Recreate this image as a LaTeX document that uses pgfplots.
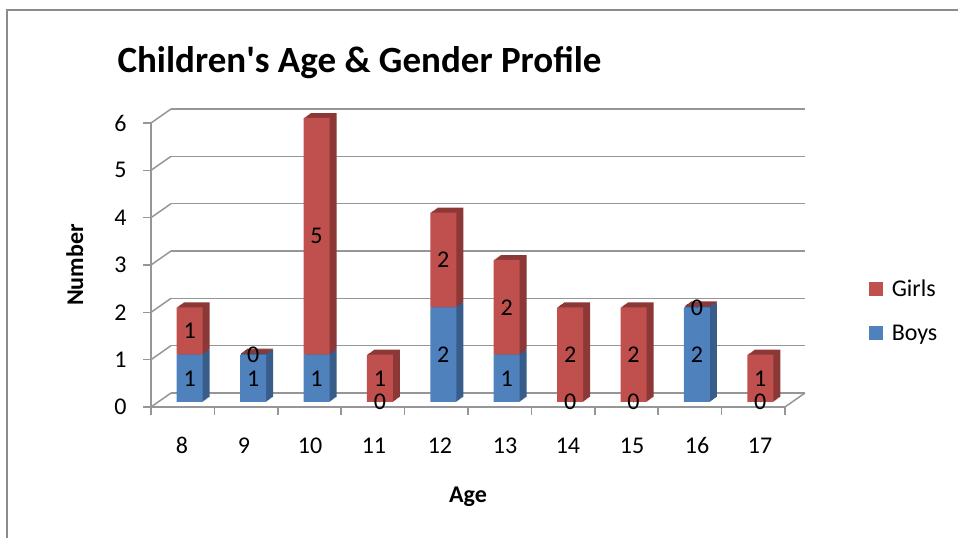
\documentclass[border=0pt]{standalone}
\usepackage{pgfplots}
\pgfplotsset{compat=1.18}
\usepackage{pgfplotstable}
\usepackage{fontspec}
\setmainfont{Carlito}
\definecolor{blueF}{HTML}{4F81BD}
\definecolor{blueD}{HTML}{385D8A}
\definecolor{redF}{HTML}{C0504D}
\definecolor{redD}{HTML}{8C3836}
\definecolor{gridgray}{HTML}{969696}
\definecolor{framegray}{HTML}{8C8C8C}

\pgfplotstableread{
age boys girls
8 1 1
9 1 0
10 1 5
11 0 1
12 2 2
13 1 2
14 0 2
15 0 2
16 2 0
17 0 1
}\data

\pgfplotsset{
  geom/.style={scale only axis, width=634pt, height=284pt, anchor=south west,
    xmin=7.5, xmax=17.5, ymin=0, ymax=6, clip=false},
  baraxis/.style={geom, hide axis, ybar stacked, bar width=26pt},
}

\begin{document}
\begin{tikzpicture}
\path[use as bounding box] (0pt,0pt) rectangle (958pt,538pt);
\draw[framegray, line width=2pt] (7pt,0pt) -- (7pt,528pt) -- (958pt,528pt);

\node[anchor=base west, font=\fontsize{37}{44}\selectfont\bfseries] at (114pt,465pt) {Children\textquotesingle s Age \& Gender Profile};

% back wall gridlines
\begin{axis}[geom, at={(171pt,145pt)}, xtick=\empty, ytick={0,...,6}, yticklabels={,,,,,,},
  ymajorgrids, major grid style={gridgray, line width=1.5pt},
  axis line style={draw=none}, major tick length=0pt]
\addplot[draw=none] coordinates {(8,0)};
\end{axis}

% left wall diagonals and floor
\foreach \i in {0,...,6} {
  \pgfmathsetmacro\ya{131+47.333*\i}
  \pgfmathsetmacro\yb{145+47.333*\i}
  \draw[gridgray, line width=1.5pt] (151pt,\ya pt) -- (171pt,\yb pt);
}
\draw[gridgray, line width=1.5pt] (785pt,131pt) -- (805pt,145pt);

% front axis
\begin{axis}[geom, at={(151pt,131pt)},
  axis x line*=bottom, axis y line*=left,
  axis line style={-, gridgray, line width=1.5pt},
  xtick={7.5,8.5,...,17.5}, xticklabels={,,,,,,,,,,},
  extra x ticks={7.989,8.967,10.008,11.017,12.058,13.084,14.077,15.087,16.112,17.106},
  extra x tick labels={8,9,10,11,12,13,14,15,16,17},
  extra x tick style={tick style={draw=none}},
  ytick={0,...,6}, yticklabels={0,1,2,3,4,5,6},
  tick align=outside, major tick length=8pt,
  tick style={gridgray, line width=1.5pt},
  tick label style={font=\fontsize{24}{28}\selectfont},
  yticklabel style={xshift=-13pt},
  xticklabel style={anchor=base, yshift=-39pt},
  /pgf/number format/assume math mode=true]
\addplot[draw=none] coordinates {(8,0)};
\end{axis}

\node[anchor=base, font=\fontsize{24}{28}\selectfont\bfseries] at (468pt,35pt) {Age};
\node[anchor=base, rotate=90, font=\fontsize{24}{28}\selectfont\bfseries] at (83pt,273pt) {Number};

% depth copies of the bars (a zero Girls segment still shows as the red top face)
\foreach \k in {7,6,...,1} {
  \pgfmathsetmacro\bx{158+\k}
  \pgfmathsetmacro\by{136+0.714*\k}
  \begin{axis}[baraxis, at={(\bx pt,\by pt)}]
  \addplot[fill=blueD, draw=none] table[x=age, y=boys] {\data};
  \addplot[fill=redD, draw=none] table[x=age, y expr={max(\thisrow{girls},0.02)}] {\data};
  \end{axis}
}

% front faces with legend
\begin{axis}[baraxis, at={(158pt,136pt)},
  legend style={at={(1.116,0.322)}, anchor=west, draw=none, fill=none,
    font=\fontsize{24}{28}\selectfont, row sep=23pt,
    /tikz/every odd column/.append style={column sep=7pt}},
  legend cell align=left, reverse legend]
\addplot[fill=blueF, draw=none,
  legend image code/.code={\fill[blueF] (0pt,-7pt) rectangle (14pt,7pt);}]
  table[x=age, y=boys] {\data};
\addlegendentry{Boys}
\addplot[fill=redF, draw=none,
  legend image code/.code={\fill[redF] (0pt,-7pt) rectangle (14pt,7pt);}]
  table[x=age, y=girls] {\data};
\addlegendentry{Girls}
\end{axis}

% data labels
\begin{axis}[geom, hide axis, at={(158pt,136pt)},
  every node near coord/.append style={anchor=center, font=\fontsize{24}{28}\selectfont, text=black}]
\addplot[only marks, mark=*, mark size=0.01pt, mark options={draw=none, fill=none},
  nodes near coords, point meta=explicit symbolic]
  table[x=age, y expr=\thisrow{boys}/2, meta=boys] {\data};
\addplot[only marks, mark=*, mark size=0.01pt, mark options={draw=none, fill=none},
  nodes near coords, point meta=explicit symbolic]
  table[x=age, y expr=\thisrow{boys}+\thisrow{girls}/2, meta=girls] {\data};
\end{axis}
\end{tikzpicture}
\end{document}
